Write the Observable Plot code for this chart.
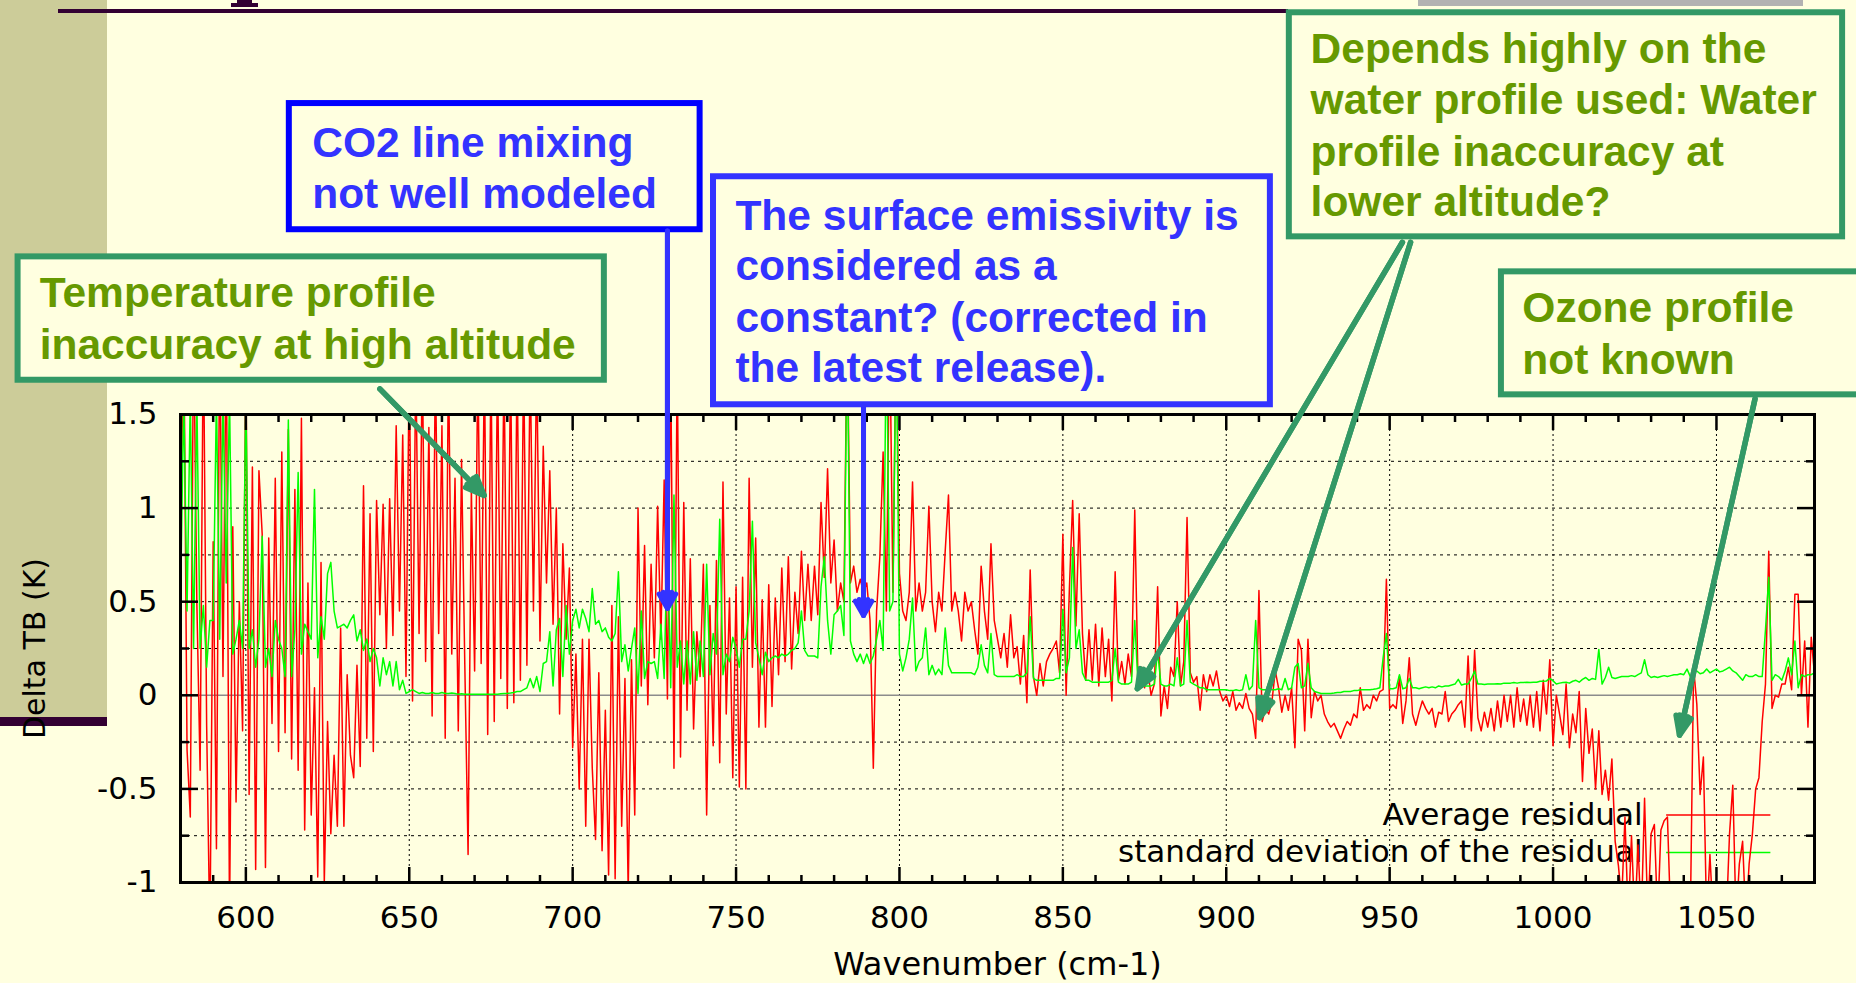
<!DOCTYPE html>
<html>
<head>
<meta charset="utf-8">
<script src="https://cdn.jsdelivr.net/npm/d3@7"></script>
<script src="https://cdn.jsdelivr.net/npm/@observablehq/plot@0.6"></script>
<style>
  html, body { margin: 0; padding: 0; width: 1856px; height: 983px; overflow: hidden; background: #FFFFE0; }
  .deco { position: absolute; }
  #chart { position: absolute; left: 0; top: 0; }
</style>
</head>
<body>
<div class="deco" style="left:0;top:0;width:107px;height:717px;background:#CCCC99;"></div>
<div class="deco" style="left:0;top:717px;width:107px;height:9px;background:#330033;"></div>
<div class="deco" style="left:58px;top:9px;width:1230px;height:3.5px;background:#330033;"></div>
<div class="deco" style="left:1418px;top:0;width:385px;height:6px;background:#B2B2B2;"></div>
<div class="deco" style="left:237px;top:0;width:15px;height:4px;background:#330033;"></div>
<div class="deco" style="left:231px;top:3.3px;width:27px;height:3.4px;background:#330033;"></div>
<div id="chart"></div>
<script>
// ---- sampling grid (cm-1) ----
const wavenumber = d3.range(580, 1081, 1);

// ---- Average residual (K), one value per cm-1 ----
const avgResidual = [
  0.8, 2.0, -0.29, -0.65, 2.0, 0.5, -0.4, 2.0, -0.16, -1.3,
  0.82, -0.82, 2.0, 0.1, 2.0, -1.2, 0.9, -0.57, 0.5, -0.19,
  1.8, -0.53, 1.22, -0.93, 1.2, 0.86, -0.92, 0.84, -0.15, 1.16,
  -0.3, 1.3, -0.2, 1.42, -0.34, 1.1, -0.4, 1.48, -0.72, 0.6,
  -0.64, 0.04, -0.97, 0.71, -1.0, -0.14, -0.74, -0.32, -0.7, 0.36,
  -0.7, 0.11, -0.32, -0.44, 0.16, -0.38, 1.12, -0.23, 0.97, -0.3,
  1.04, 0.43, 1.02, 0.25, 1.05, 0.32, 1.44, 0.45, 1.39, 0.1,
  1.8, -0.03, 1.8, 0.33, 1.8, 0.18, 1.43, -0.11, 1.8, 0.33,
  1.44, -0.23, 1.8, 0.22, 1.16, -0.19, 1.26, 0.16, -0.85, 1.1,
  0.13, 1.8, 0.17, 1.8, -0.21, 1.8, -0.14, 1.8, 0.09, 1.8,
  -0.07, 1.8, -0.04, 1.8, 0.08, 1.8, 0.16, 1.8, 0.45, 1.8,
  0.29, 1.33, 0.6, 1.2, 0.38, 1.0, -0.1, 0.81, 0.3, 0.68,
  -0.28, 0.22, -0.5, 0.3, -0.7, 0.3, -0.39, -0.77, 0.12, -0.83,
  -0.08, -0.96, 0.48, -0.98, 0.42, -0.7, 0.09, -1.05, 0.19, -0.64,
  1.0, 0.05, 0.8, -0.05, 0.7, 0.2, 1.01, 0.3, 1.15, -0.02,
  1.8, -0.39, 1.8, -0.33, 1.03, -0.08, 0.73, -0.18, 0.34, 0.1,
  0.7, -0.64, 0.48, -0.27, 0.72, -0.36, 1.14, -0.1, 0.52, -0.44,
  0.58, -0.49, 0.63, -0.5, 1.16, 0.15, 0.84, -0.17, 0.51, -0.17,
  0.59, -0.06, 0.52, 0.11, 0.68, 0.18, 0.74, 0.14, 0.55, 0.33,
  0.77, 0.4, 0.7, 0.4, 0.69, 0.43, 1.03, 0.63, 1.21, 0.6,
  0.83, 0.45, 0.6, 0.5, 2.0, 0.6, 0.69, 0.55, 0.62, 0.55,
  0.6, 0.4, -0.39, 0.45, 0.74, 1.3, 0.45, 2.0, 0.55, 2.0,
  0.65, 0.45, 0.4, 0.55, 1.14, 0.45, 0.6, 0.45, 0.55, 1.01,
  0.5, 0.34, 0.55, 0.45, 0.77, 1.07, 0.45, 0.55, 0.45, 0.29,
  0.55, 0.45, 0.5, 0.35, 0.22, 0.69, 0.45, 0.3, 0.81, 0.4,
  0.3, 0.2, 0.33, 0.15, 0.43, 0.2, 0.26, 0.06, 0.32, -0.04,
  0.67, 0.1, 0.0, 0.17, 0.05, 0.18, 0.22, 0.25, 0.29, 0.12,
  0.86, 0.0, 0.57, 1.04, 0.37, 0.97, 0.33, 0.08, 0.35, 0.08,
  0.38, 0.05, 0.36, 0.1, 0.3, -0.03, 0.66, 0.08, 0.18, 0.06,
  0.22, 0.1, 0.99, 0.06, 0.15, 0.04, 0.13, 0.0, 0.06, 0.58,
  -0.11, 0.05, -0.07, 0.15, 0.1, 0.5, 0.05, 0.18, 0.95, 0.12,
  0.07, 0.1, -0.08, 0.11, 0.02, 0.11, 0.05, 0.13, 0.02, -0.03,
  0.0, -0.06, 0.02, -0.08, -0.04, -0.07, 0.01, -0.07, -0.1, -0.23,
  0.56, -0.14, -0.07, -0.1, -0.03, 0.13, 0.04, -0.09, 0.0, -0.08,
  0.04, -0.28, 0.3, 0.24, -0.19, 0.3, -0.12, 0.02, -0.03, 0.0,
  -0.1, -0.14, -0.17, -0.15, -0.19, -0.23, -0.18, -0.14, -0.16, -0.1,
  -0.12, 0.04, -0.08, -0.05, -0.07, 0.0, -0.03, 0.02, 0.03, 0.62,
  -0.07, -0.05, -0.07, 0.1, -0.15, -0.03, 0.2, -0.1, -0.16, -0.09,
  -0.03, -0.07, -0.1, -0.07, -0.17, -0.09, -0.1, 0.02, -0.14, -0.1,
  -0.08, -0.05, -0.03, -0.17, 0.21, -0.19, 0.24, -0.12, -0.19, -0.09,
  -0.17, -0.07, -0.19, -0.03, -0.17, 0.0, -0.14, 0.0, -0.17, 0.04,
  -0.14, -0.02, -0.16, 0.0, -0.17, 0.02, -0.19, 0.08, -0.1, 0.19,
  -0.27, 0.0, -0.1, -0.21, 0.06, -0.28, -0.1, -0.2, 0.02, -0.46,
  -0.07, -0.31, -0.18, -0.5, -0.19, -0.53, -0.4, -0.56, -0.34, -0.78,
  -0.91, -1.1, -0.65, -1.2, -0.75, -1.2, -0.8, -1.2, -0.55, -1.2,
  -0.74, -0.69, -1.2, -0.72, -0.67, -0.65, -1.2, -1.1, -1.2, -1.05,
  -1.2, -1.1, -1.2, 0.15, -0.05, -0.53, -0.33, -1.2, -0.85, -1.2,
  -1.1, -1.2, -1.05, -1.2, -0.74, -0.48, -1.2, -0.9, -0.78, -1.2,
  -0.9, -0.74, -0.5, -0.44, -0.14, 0.06, 0.77, -0.07, 0.0, -0.01,
  0.06, 0.06, 0.15, 0.03, 0.54, 0.54, 0.0, 0.29, -0.17, 0.31,
  0.11
];

// ---- Standard deviation of the residual (K), one value per cm-1 ----
const stdResidual = [
  0.5, 1.6, 0.45, 1.6, 0.25, 1.6, 0.25, 0.48, 0.15, 0.4,
  0.4, 1.6, 0.3, 1.6, 0.6, 1.6, 0.22, 0.3, 0.4, 0.25,
  1.6, 0.25, 0.35, 0.15, 0.3, 0.85, 0.15, 0.25, 0.1, 0.4,
  0.3, 0.25, 0.1, 1.47, 0.1, 0.35, 1.19, 0.22, 0.38, 0.34,
  0.3, 1.1, 0.2, 0.42, 0.3, 0.65, 0.71, 0.45, 0.36, 0.37,
  0.38, 0.36, 0.4, 0.43, 0.29, 0.35, 0.24, 0.3, 0.18, 0.25,
  0.2, 0.05, 0.2, 0.11, 0.18, 0.05, 0.18, 0.03, 0.08, 0.01,
  0.02, 0.03, 0.02, 0.01, 0.015, 0.01, 0.01, 0.015, 0.01, 0.01,
  0.015, 0.01, 0.01, 0.012, 0.01, 0.005, 0.008, 0.005, 0.006, 0.005,
  0.005, 0.006, 0.005, 0.006, 0.005, 0.006, 0.005, 0.006, 0.008, 0.01,
  0.01, 0.012, 0.015, 0.02, 0.02, 0.03, 0.04, 0.09, 0.04, 0.1,
  0.02, 0.17, 0.18, 0.34, 0.05, 0.35, 0.41, 0.1, 0.48, 0.22,
  0.4, 0.46, 0.36, 0.46, 0.41, 0.34, 0.57, 0.38, 0.4, 0.34,
  0.36, 0.31, 0.29, 0.33, 0.66, 0.18, 0.27, 0.13, 0.25, 0.36,
  0.01, 0.45, 0.09, 0.18, 0.17, 0.18, 0.09, 0.38, 0.09, 0.86,
  0.04, 1.07, 0.15, 0.29, 0.06, 0.29, 0.06, 0.34, 0.08, 0.29,
  0.1, 0.7, 0.11, 0.33, 0.22, 0.94, 0.11, 0.22, 0.18, 0.31,
  0.25, 0.15, 0.3, 0.3, 0.45, 0.93, 0.28, 0.2, 0.11, 0.23,
  0.18, 0.2, 0.21, 0.2, 0.22, 0.21, 0.22, 0.24, 0.25, 0.28,
  0.45, 0.24, 0.21, 0.21, 0.21, 0.2, 0.58, 0.74, 0.4, 0.22,
  0.43, 0.45, 0.48, 0.32, 2.0, 0.29, 0.22, 0.18, 0.22, 0.17,
  0.22, 0.17, 0.21, 0.3, 0.4, 0.24, 2.0, 0.45, 0.5, 2.0,
  0.22, 0.13, 0.2, 0.3, 0.52, 0.13, 0.18, 0.2, 0.36, 0.11,
  0.16, 0.11, 0.14, 0.11, 0.36, 0.16, 0.12, 0.12, 0.12, 0.12,
  0.12, 0.12, 0.12, 0.11, 0.15, 0.27, 0.16, 0.12, 0.33, 0.11,
  0.1, 0.1, 0.1, 0.1, 0.1, 0.1, 0.11, 0.1, 0.1, 0.12,
  0.42, 0.09, 0.08, 0.08, 0.08, 0.08, 0.08, 0.08, 0.09, 0.09,
  0.46, 0.12, 0.2, 0.79, 0.25, 0.35, 0.12, 0.08, 0.08, 0.07,
  0.07, 0.07, 0.07, 0.07, 0.07, 0.08, 0.25, 0.07, 0.06, 0.06,
  0.06, 0.07, 0.4, 0.06, 0.05, 0.05, 0.05, 0.05, 0.06, 0.24,
  0.06, 0.05, 0.05, 0.06, 0.05, 0.2, 0.05, 0.06, 0.4, 0.07,
  0.06, 0.05, 0.04, 0.04, 0.03, 0.03, 0.03, 0.03, 0.03, 0.03,
  0.03, 0.025, 0.025, 0.03, 0.025, 0.03, 0.11, 0.03, 0.05, 0.4,
  0.04, 0.03, 0.03, 0.035, 0.03, 0.03, 0.035, 0.03, 0.09, 0.03,
  0.04, 0.15, 0.17, 0.04, 0.05, 0.17, 0.04, 0.02, 0.015, 0.01,
  0.01, 0.01, 0.01, 0.012, 0.015, 0.015, 0.02, 0.02, 0.02, 0.025,
  0.025, 0.03, 0.03, 0.03, 0.03, 0.032, 0.035, 0.04, 0.2, 0.33,
  0.035, 0.035, 0.04, 0.11, 0.035, 0.04, 0.09, 0.04, 0.04, 0.035,
  0.04, 0.045, 0.04, 0.045, 0.04, 0.05, 0.045, 0.05, 0.05, 0.055,
  0.06, 0.085, 0.055, 0.06, 0.06, 0.09, 0.13, 0.06, 0.06, 0.058,
  0.06, 0.06, 0.06, 0.062, 0.06, 0.065, 0.065, 0.065, 0.068, 0.065,
  0.068, 0.068, 0.07, 0.068, 0.07, 0.07, 0.075, 0.075, 0.077, 0.09,
  0.077, 0.06, 0.065, 0.068, 0.07, 0.065, 0.075, 0.08, 0.07, 0.085,
  0.095, 0.08, 0.09, 0.085, 0.245, 0.06, 0.095, 0.15, 0.095, 0.09,
  0.095, 0.1, 0.1, 0.1, 0.105, 0.1, 0.11, 0.12, 0.19, 0.11,
  0.095, 0.1, 0.095, 0.1, 0.105, 0.1, 0.105, 0.11, 0.11, 0.115,
  0.11, 0.14, 0.1, 0.12, 0.13, 0.115, 0.12, 0.14, 0.12, 0.13,
  0.14, 0.125, 0.13, 0.14, 0.15, 0.13, 0.12, 0.1, 0.08, 0.11,
  0.1, 0.1, 0.11, 0.1, 0.1, 0.35, 0.63, 0.08, 0.11, 0.1,
  0.08, 0.13, 0.2, 0.11, 0.29, 0.04, 0.11, 0.1, 0.11, 0.11,
  0.12
];

// ---- axis ticks and labels ----
const xMajorTicks = [600, 650, 700, 750, 800, 850, 900, 950, 1000, 1050];
const xMinorTicks = [590, 610, 620, 630, 640, 660, 670, 680, 690, 710, 720, 730, 740, 760, 770, 780, 790,
  810, 820, 830, 840, 860, 870, 880, 890, 910, 920, 930, 940, 960, 970, 980, 990, 1010, 1020, 1030, 1040, 1060, 1070];
const yMajorTicks = [-1, -0.5, 0, 0.5, 1, 1.5];
const yMinorTicks = [-0.75, -0.25, 0.25, 0.75, 1.25];
const yGridLines = [-0.75, -0.5, -0.25, 0.25, 0.5, 0.75, 1, 1.25];
const xAxisTitle = "Wavenumber (cm-1)";
const yAxisTitle = "Delta TB (K)";

// ---- legend (positions in data units) ----
const legendEntries = [
  {label: "Average residual", y: -0.64},
  {label: "standard deviation of the residual", y: -0.84}
];
const legendTextX = 1027.4, legendLineX1 = 1034.6, legendLineX2 = 1066.5;

// ---- annotations (positions in data units: cm-1, K) ----
const boxes = [
  {name: "co2", x1: 613.3, x2: 739.0, y1: 2.487, y2: 3.161},
  {name: "surface", x1: 743.1, x2: 913.5, y1: 1.552, y2: 2.770},
  {name: "water", x1: 919.3, x2: 1088.6, y1: 2.449, y2: 3.646},
  {name: "ozone", x1: 984.2, x2: 1100, y1: 1.605, y2: 2.262},
  {name: "temperature", x1: 530.3, x2: 709.7, y1: 1.683, y2: 2.342}
];
const blueNoteLines = [
  {text: "CO2 line mixing", x: 620.3, y: 2.874},
  {text: "not well modeled", x: 620.3, y: 2.604},
  {text: "The surface emissivity is", x: 749.8, y: 2.487},
  {text: "considered as a", x: 749.8, y: 2.220},
  {text: "constant? (corrected in", x: 749.8, y: 1.940},
  {text: "the latest release).", x: 749.8, y: 1.673}
];
const greenNoteLines = [
  {text: "Depends highly on the", x: 925.8, y: 3.377},
  {text: "water profile used: Water", x: 925.8, y: 3.103},
  {text: "profile inaccuracy at", x: 925.8, y: 2.830},
  {text: "lower altitude?", x: 925.8, y: 2.563},
  {text: "Ozone profile", x: 990.6, y: 1.993},
  {text: "not known", x: 990.6, y: 1.717},
  {text: "Temperature profile", x: 536.9, y: 2.073},
  {text: "inaccuracy at high altitude", x: 536.9, y: 1.798}
];
const blueArrows = [
  {x1: 729.0, y1: 2.48, x2: 729.0, y2: 0.464},
  {x1: 789.0, y1: 1.55, x2: 789.0, y2: 0.426}
];
const greenArrows = [
  {x1: 641.0, y1: 1.637, x2: 672.9, y2: 1.068},
  {x1: 953.9, y1: 2.42, x2: 872.8, y2: 0.036},
  {x1: 956.4, y1: 2.42, x2: 910.2, y2: -0.119},
  {x1: 1061.8, y1: 1.584, x2: 1038.7, y2: -0.213}
];

// ---- styles ----
const cream = "#FFFFE0";
const blueText = "#3333FF";
const teal = "#339966";
const olive = "#669900";
const chartFont = "'DejaVu Sans', 'Liberation Sans', sans-serif";
const noteFont = "'Liberation Sans', Arial, sans-serif";

const rows = wavenumber.map((w, i) => ({w, avg: avgResidual[i], sd: stdResidual[i]}));

const tickOpts = {stroke: "black", strokeWidth: 2.5, tickFormat: () => "", label: null};
const arrowXY = {x1: "x1", y1: "y1", x2: "x2", y2: "y2"};

const chart = Plot.plot({
  width: 1856,
  height: 983,
  marginLeft: 180,
  marginRight: 42,
  marginTop: 414,
  marginBottom: 101,
  style: {background: "transparent", overflow: "hidden", fontFamily: chartFont, color: "black"},
  x: {domain: [580, 1080], label: null},
  y: {domain: [-1, 1.5], label: null},
  marks: [
    // grid
    Plot.ruleY(yGridLines, {stroke: "black", strokeWidth: 1, strokeDasharray: "3,4"}),
    Plot.ruleX(xMajorTicks, {stroke: "black", strokeWidth: 1, strokeDasharray: "2,3"}),
    Plot.ruleY([0], {stroke: "#8c8c8c", strokeWidth: 1.6}),
    // legend
    Plot.text(legendEntries, {x: () => legendTextX, y: "y", text: "label", textAnchor: "end", lineAnchor: "middle", fontSize: 31, fill: "black"}),
    Plot.link([legendEntries[0]], {x1: () => legendLineX1, x2: () => legendLineX2, y1: "y", y2: "y", stroke: "#FF0000", strokeWidth: 1.5}),
    Plot.link([legendEntries[1]], {x1: () => legendLineX1, x2: () => legendLineX2, y1: "y", y2: "y", stroke: "#00FF00", strokeWidth: 1.5}),
    // data
    Plot.lineY(rows, {x: "w", y: "avg", stroke: "#FF0000", strokeWidth: 1.5, clip: true}),
    Plot.lineY(rows, {x: "w", y: "sd", stroke: "#00FF00", strokeWidth: 1.5, clip: true}),
    // frame
    Plot.frame({stroke: "black", strokeWidth: 3}),
    // inward ticks
    Plot.axisX(xMajorTicks, {anchor: "bottom", tickSize: 15, dy: -15, ...tickOpts}),
    Plot.axisX(xMinorTicks, {anchor: "bottom", tickSize: 7, dy: -7, ...tickOpts}),
    Plot.axisX(xMajorTicks, {anchor: "top", tickSize: 15, dy: 15, ...tickOpts}),
    Plot.axisX(xMinorTicks, {anchor: "top", tickSize: 7, dy: 7, ...tickOpts}),
    Plot.axisY(yMajorTicks, {anchor: "left", tickSize: 18, dx: 18, ...tickOpts}),
    Plot.axisY(yMinorTicks, {anchor: "left", tickSize: 9, dx: 9, ...tickOpts}),
    Plot.axisY(yMajorTicks, {anchor: "right", tickSize: 18, dx: -18, ...tickOpts}),
    Plot.axisY(yMinorTicks, {anchor: "right", tickSize: 9, dx: -9, ...tickOpts}),
    // tick labels
    Plot.axisX(xMajorTicks, {anchor: "bottom", tickSize: 0, tickPadding: 23, fontSize: 31, tickFormat: d => String(d), label: null, fill: "black"}),
    Plot.axisY(yMajorTicks, {anchor: "left", tickSize: 0, tickPadding: 23, fontSize: 31, tickFormat: d => String(d), label: null, fill: "black"}),
    // axis titles
    Plot.text([xAxisTitle], {frameAnchor: "bottom", dy: 92, lineAnchor: "bottom", textAnchor: "middle", fontSize: 32, fill: "black"}),
    Plot.text([yAxisTitle], {frameAnchor: "left", dx: -136, rotate: -90, lineAnchor: "bottom", textAnchor: "middle", fontSize: 30, fill: "black"}),
    // annotation boxes
    Plot.rect(boxes.filter(b => b.name === "co2"), {x1: "x1", x2: "x2", y1: "y1", y2: "y2", fill: cream, stroke: "#0000FF", strokeWidth: 6}),
    Plot.rect(boxes.filter(b => b.name === "surface"), {x1: "x1", x2: "x2", y1: "y1", y2: "y2", fill: cream, stroke: blueText, strokeWidth: 6}),
    Plot.rect(boxes.filter(b => b.name !== "co2" && b.name !== "surface"), {x1: "x1", x2: "x2", y1: "y1", y2: "y2", fill: cream, stroke: teal, strokeWidth: 6}),
    Plot.text(blueNoteLines, {x: "x", y: "y", text: "text", textAnchor: "start", lineAnchor: "bottom", fontSize: 42.5, fontWeight: "bold", fontFamily: noteFont, fill: blueText}),
    Plot.text(greenNoteLines, {x: "x", y: "y", text: "text", textAnchor: "start", lineAnchor: "bottom", fontSize: 42.5, fontWeight: "bold", fontFamily: noteFont, fill: olive}),
    // arrows (layered heads give a filled-looking arrowhead)
    Plot.arrow(blueArrows, {...arrowXY, stroke: blueText, strokeWidth: 5, headLength: 5, headAngle: 60}),
    Plot.arrow(blueArrows, {...arrowXY, stroke: blueText, strokeWidth: 5, headLength: 5, headAngle: 30}),
    Plot.arrow(greenArrows, {...arrowXY, stroke: teal, strokeWidth: 5.5, headLength: 5.5, headAngle: 45}),
    Plot.arrow(greenArrows, {...arrowXY, stroke: teal, strokeWidth: 5.5, headLength: 5.5, headAngle: 25})
  ]
});

document.getElementById("chart").appendChild(chart);
</script>
</body>
</html>
